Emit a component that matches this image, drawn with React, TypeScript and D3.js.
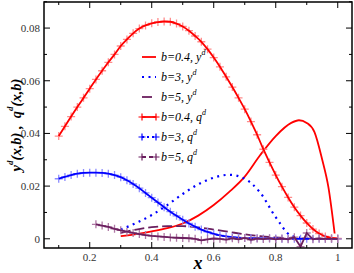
import { useMemo } from 'react';
import * as d3 from 'd3';

// x grids
const xQ = [0.10, 0.12, 0.14, 0.16, 0.18, 0.20, 0.22, 0.24, 0.26, 0.28, 0.30, 0.32, 0.34, 0.36, 0.38, 0.40, 0.42, 0.44, 0.46, 0.48, 0.50, 0.52, 0.54, 0.56, 0.58, 0.60, 0.62, 0.64, 0.66, 0.68, 0.70, 0.72, 0.74, 0.76, 0.78, 0.80, 0.82, 0.84, 0.86, 0.88, 0.90, 0.92, 0.94, 0.96, 0.98, 1.00];

const qB04 = [0.0390, 0.0427, 0.0464, 0.0500, 0.0535, 0.0570, 0.0605, 0.0638, 0.0670, 0.0700, 0.0732, 0.0757, 0.0780, 0.0798, 0.0810, 0.0818, 0.0823, 0.0825, 0.0824, 0.0817, 0.0806, 0.0790, 0.0770, 0.0748, 0.0720, 0.0688, 0.0653, 0.0615, 0.0576, 0.0535, 0.0492, 0.0445, 0.0395, 0.0340, 0.0290, 0.0242, 0.0198, 0.0157, 0.0120, 0.0088, 0.0060, 0.0037, 0.0020, 0.0009, 0.0003, 0.0001];

const qB3 = [0.0228, 0.0235, 0.0242, 0.0247, 0.0250, 0.0251, 0.0251, 0.0250, 0.0247, 0.0242, 0.0234, 0.0222, 0.0208, 0.0192, 0.0174, 0.0156, 0.0138, 0.0120, 0.0103, 0.0087, 0.0072, 0.0058, 0.0046, 0.0035, 0.0026, 0.0019, 0.0013, 0.0009, 0.0006, 0.0004, 0.0003, 0.0002, 0.0002, 0.0001, 0.0001, 0.0001, 0.0000, 0.0000, 0.0000, 0.0000, 0.0000, 0.0000, 0.0000, 0.0000, 0.0000, 0.0000];

// b=5 q^d starts at x=0.22
const xQ5 = xQ.slice(6);
const qB5 = [0.0055, 0.0050, 0.0045, 0.0038, 0.0032, 0.0027, 0.0022, 0.0018, 0.0014, 0.0011, 0.0009, 0.0007, 0.0005, 0.0004, 0.0003, 0.0002, 0.0000, -0.0006, -0.0002, 0.0001, 0.0000, -0.0003, 0.0002, -0.0002, 0.0003, -0.0004, 0.0001, -0.0001, 0.0002, -0.0002, 0.0001, -0.0002, 0.0006, -0.0030, 0.0022, -0.0002, 0.0001, 0.0000, 0.0000, 0.0000];

const xY04 = [0.30, 0.35, 0.40, 0.45, 0.50, 0.55, 0.60, 0.65, 0.70, 0.75, 0.80, 0.85, 0.875, 0.90, 0.925, 0.95, 0.97, 0.99];
const yB04 = [0.0010, 0.0018, 0.0028, 0.0040, 0.0058, 0.0088, 0.0128, 0.0178, 0.0236, 0.0318, 0.0390, 0.0440, 0.0450, 0.0440, 0.0405, 0.0300, 0.0195, 0.0020];

const xY = [0.30, 0.35, 0.40, 0.45, 0.50, 0.55, 0.60, 0.65, 0.70, 0.75, 0.80, 0.85, 0.90, 0.95, 1.00];
const yB3 = [0.0035, 0.0060, 0.0090, 0.0128, 0.0170, 0.0207, 0.0232, 0.0243, 0.0228, 0.0175, 0.0082, 0.0012, 0.0002, 0.0000, 0.0000];
const yB5 = [0.0022, 0.0035, 0.0044, 0.0048, 0.0048, 0.0043, 0.0035, 0.0026, 0.0017, 0.0010, 0.0005, 0.0002, 0.0001, 0.0000, 0.0000];

const xTicks = [0.2, 0.4, 0.6, 0.8, 1];
const xTickLabels = ['0.2', '0.4', '0.6', '0.8', '1'];
const yTicks = [0, 0.02, 0.04, 0.06, 0.08];
const yTickLabels = ['0', '0.02', '0.04', '0.06', '0.08'];

const legendB = ['0.4', '3', '5', '0.4', '3', '5'];
const legendFn = ['y', 'y', 'y', 'q', 'q', 'q'];

const RED = '#ff0000';
const BLUE = '#0000ff';
const PURPLE = '#6b1f5e';
const FONT = 'Liberation Serif, DejaVu Serif, serif';

const W = 354, H = 273;
const L = 44, R = 352, T = 2, B = 248;

const App = () => {
  const x = d3.scaleLinear().domain([0.0525, 1.046]).range([L, R]);
  const y = d3.scaleLinear().domain([-0.0035, 0.0899]).range([B, T]);

  const series = useMemo(() => {
    const smooth = d3.line<[number, number]>().x((d) => x(d[0])).y((d) => y(d[1])).curve(d3.curveMonotoneX);
    const straight = d3.line<[number, number]>().x((d) => x(d[0])).y((d) => y(d[1]));
    const zip = (xs: number[], ys: number[]) => xs.map((v, i) => [v, ys[i]] as [number, number]);
    return [
      { pts: zip(xY04, yB04), path: smooth(zip(xY04, yB04)), color: RED, dash: '', markers: false, light: '' },
      { pts: zip(xY, yB3), path: smooth(zip(xY, yB3)), color: BLUE, dash: '2,4.5', markers: false, light: '' },
      { pts: zip(xY, yB5), path: smooth(zip(xY, yB5)), color: PURPLE, dash: '10,4', markers: false, light: '' },
      { pts: zip(xQ, qB04), path: smooth(zip(xQ, qB04)), color: RED, dash: '', markers: true, light: '#ff8c8c' },
      { pts: zip(xQ, qB3), path: smooth(zip(xQ, qB3)), color: BLUE, dash: '', markers: true, light: '#8c8cff' },
      { pts: zip(xQ5, qB5), path: straight(zip(xQ5, qB5)), color: PURPLE, dash: '', markers: true, light: '#b07aa6' },
    ];
  }, []);

  const xMinor = d3.range(0.1, 1.01, 0.1);
  const yMinor = d3.range(0, 0.0901, 0.01);

  const cross = (cx: number, cy: number, s: number) => `M${cx - s},${cy}H${cx + s}M${cx},${cy - s}V${cy + s}`;

  return (
    <svg width={W} height={H} fontFamily={FONT} style={{ position: 'absolute', left: 0, top: 0, background: '#fff' }}>
      <defs>
        <clipPath id="plot">
          <rect x={L} y={T} width={R - L} height={B - T} />
        </clipPath>
      </defs>

      {/* ticks, all sides, pointing inward */}
      <g stroke="#000" strokeWidth={1}>
        {xMinor.map((t, i) => {
          const major = Math.abs(Math.round(t * 10) % 2) === 0;
          const len = major ? 6 : 3;
          return (
            <g key={`xt${i}`}>
              <line x1={x(t)} x2={x(t)} y1={B} y2={B - len} />
              <line x1={x(t)} x2={x(t)} y1={T} y2={T + len} />
            </g>
          );
        })}
        {yMinor.map((t, i) => {
          const major = Math.round(t * 100) % 2 === 0;
          const len = major ? 6 : 3;
          return (
            <g key={`yt${i}`}>
              <line x1={L} x2={L + len} y1={y(t)} y2={y(t)} />
              <line x1={R} x2={R - len} y1={y(t)} y2={y(t)} />
            </g>
          );
        })}
      </g>

      <g fontSize={11} fill="#333">
        {xTicks.map((t, i) => (
          <text key={`xl${i}`} x={x(t)} y={261} textAnchor="middle">{xTickLabels[i]}</text>
        ))}
        {yTicks.map((t, i) => (
          <text key={`yl${i}`} x={40} y={y(t) + 4} textAnchor="end">{yTickLabels[i]}</text>
        ))}
      </g>

      <g clipPath="url(#plot)">
        {series.map((s, i) => (
          <g key={`s${i}`}>
            {s.markers && (
              <path
                d={s.pts.map((p) => cross(x(p[0]), y(p[1]), 4)).join('')}
                stroke={s.light}
                strokeWidth={1.3}
                fill="none"
              />
            )}
            <path d={s.path ?? ''} fill="none" stroke={s.color} strokeWidth={s.dash === '2,4.5' ? 2.2 : 1.8} strokeDasharray={s.dash || undefined} />
          </g>
        ))}
      </g>

      <rect x={L} y={T} width={R - L} height={B - T} fill="none" stroke="#000" strokeWidth={1.5} />

      {/* legend */}
      <g>
        {legendB.map((b, i) => {
          const s = series[i];
          const ly = 57 + i * 20;
          return (
            <g key={`lg${i}`}>
              <line x1={142} x2={156} y1={ly} y2={ly} stroke={s.color} strokeWidth={s.dash === '2,4.5' ? 2.2 : 1.8} strokeDasharray={i >= 3 ? (i === 4 ? '2,3' : i === 5 ? '4,3' : undefined) : (s.dash || undefined)} />
              {s.markers && (
                <path d={cross(142, ly, 3.5) + cross(156, ly, 3.5)} stroke={s.color} strokeWidth={1.2} fill="none" />
              )}
              <text x={161} y={ly + 4} fontSize={12} fontStyle="italic" fill="#000">
                {`b=${b}, ${legendFn[i]}`}
                <tspan fontSize={8} dy={-6}>d</tspan>
              </text>
            </g>
          );
        })}
      </g>

      <text x={198} y={269} textAnchor="middle" fontSize={18} fontWeight="bold" fontStyle="italic">x</text>

      <text
        transform="translate(21,125) rotate(-90)"
        textAnchor="middle"
        fontSize={14.5}
        fontWeight="bold"
        fontStyle="italic"
        style={{ whiteSpace: 'pre' }}
      >
        y<tspan fontSize={9} dy={-8}>d</tspan>
        <tspan dy={8}>{'(x,b) ,  q'}</tspan>
        <tspan fontSize={9} dy={-8}>d</tspan>
        <tspan dy={8}>(x,b)</tspan>
      </text>
    </svg>
  );
};

export default App;
